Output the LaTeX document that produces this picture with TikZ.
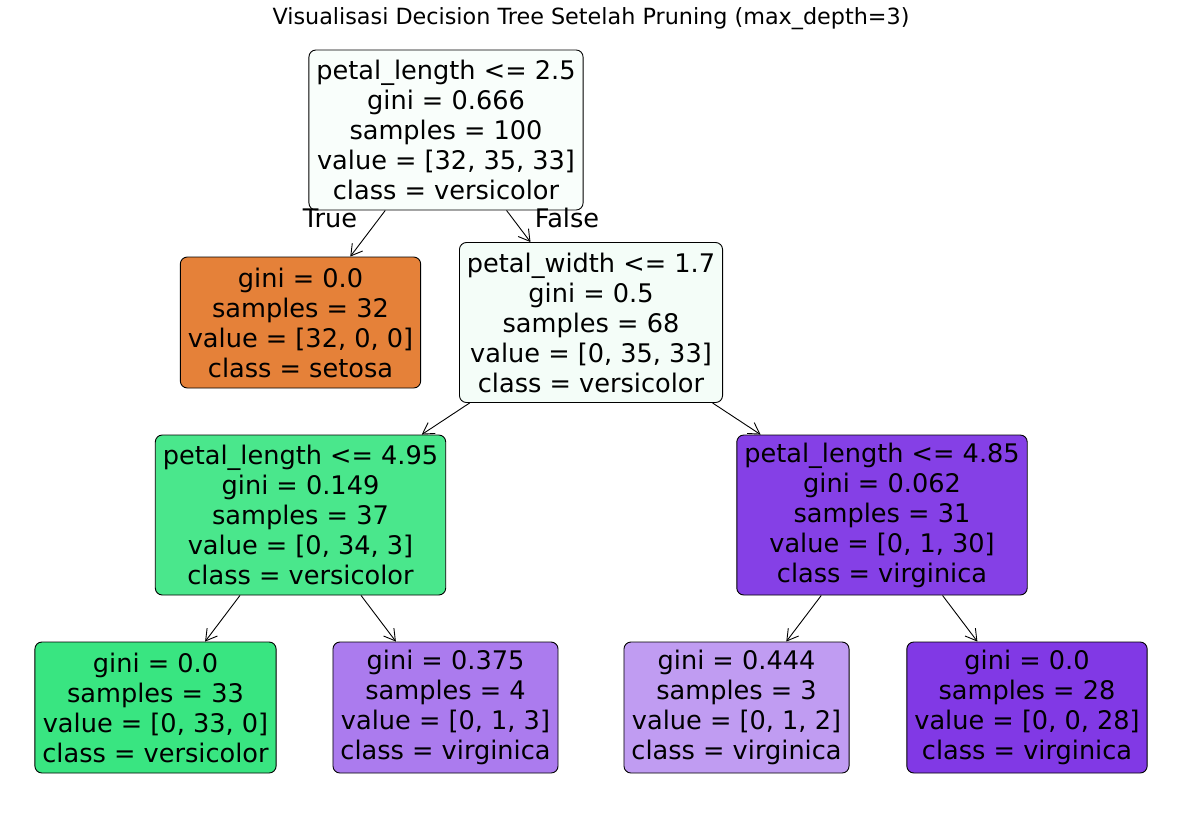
\documentclass[tikz,border=0pt]{standalone}
\usepackage{fontspec}
\setmainfont{DejaVu Sans}
\usetikzlibrary{arrows.meta}

\definecolor{rootfill}{HTML}{F9FEFB}
\definecolor{pwfill}{HTML}{F4FDF8}
\definecolor{setosafill}{HTML}{E58139}
\definecolor{vcfullfill}{HTML}{39E581}
\definecolor{vcfill}{HTML}{4AE78C}
\definecolor{vgfill}{HTML}{8540E6}
\definecolor{vgmidfill}{HTML}{AB7BEE}
\definecolor{vglightfill}{HTML}{C09CF2}
\definecolor{vgfullfill}{HTML}{8139E5}

\tikzset{
  treenode/.style={draw=black,line width=0.9pt,rounded corners=7pt,align=center,
    inner xsep=7.5pt,inner ysep=0pt,font=\fontsize{25.6}{30}\selectfont},
  splitnode/.style={treenode,minimum height=160pt},
  leafnode/.style={treenode,minimum height=131pt},
  branchlabel/.style={font=\fontsize{25.6}{30}\selectfont,inner sep=0pt},
  treeedge/.style={line width=0.9pt,-{Straight Barb[length=11pt,width=13pt,line width=0.9pt]}}
}

\begin{document}
\begin{tikzpicture}[x=1pt,y=-1pt]
        \useasboundingbox[fill=white] (0,0) rectangle (1182,814);
        \node[font=\fontsize{22.3}{26}\selectfont] (title) at (591,19) {Visualisasi Decision Tree Setelah Pruning (max\_depth=3)};
        % split nodes
        \node[splitnode,fill=rootfill] (root) at (446,130) {petal\_length <= 2.5\\gini = 0.666\\samples = 100\\value = [32, 35, 33]\\class = versicolor};
        \node[leafnode,fill=setosafill] (setosa) at (300.5,322.5) {gini = 0.0\\samples = 32\\value = [32, 0, 0]\\class = setosa};
        \node[splitnode,fill=pwfill] (pw) at (591,322.5) {petal\_width <= 1.7\\gini = 0.5\\samples = 68\\value = [0, 35, 33]\\class = versicolor};
        \node[splitnode,fill=vcfill] (plA) at (300.5,515) {petal\_length <= 4.95\\gini = 0.149\\samples = 37\\value = [0, 34, 3]\\class = versicolor};
        \node[splitnode,fill=vgfill] (plB) at (882,515) {petal\_length <= 4.85\\gini = 0.062\\samples = 31\\value = [0, 1, 30]\\class = virginica};
        % leaves
        \node[leafnode,fill=vcfullfill] (leaf_1) at (155.5,707.5) {gini = 0.0\\samples = 33\\value = [0, 33, 0]\\class = versicolor};
        \node[leafnode,fill=vgmidfill] (leaf_2) at (445.5,707.5) {gini = 0.375\\samples = 4\\value = [0, 1, 3]\\class = virginica};
        \node[leafnode,fill=vglightfill] (leaf_3) at (736.5,707.5) {gini = 0.444\\samples = 3\\value = [0, 1, 2]\\class = virginica};
        \node[leafnode,fill=vgfullfill] (leaf_4) at (1027,707.5) {gini = 0.0\\samples = 28\\value = [0, 0, 28]\\class = virginica};
        \node[branchlabel] (lbl_true) at (330,218) {True};
        \node[branchlabel] (lbl_false) at (567,218) {False};
        \path[treeedge]
        (root) edge (setosa)
        (root) edge (pw)
        (pw) edge (plA)
        (pw) edge (plB)
        (plA) edge (leaf_1)
        (plA) edge (leaf_2)
        (plB) edge (leaf_3)
        (plB) edge (leaf_4);
    \end{tikzpicture}
\end{document}
